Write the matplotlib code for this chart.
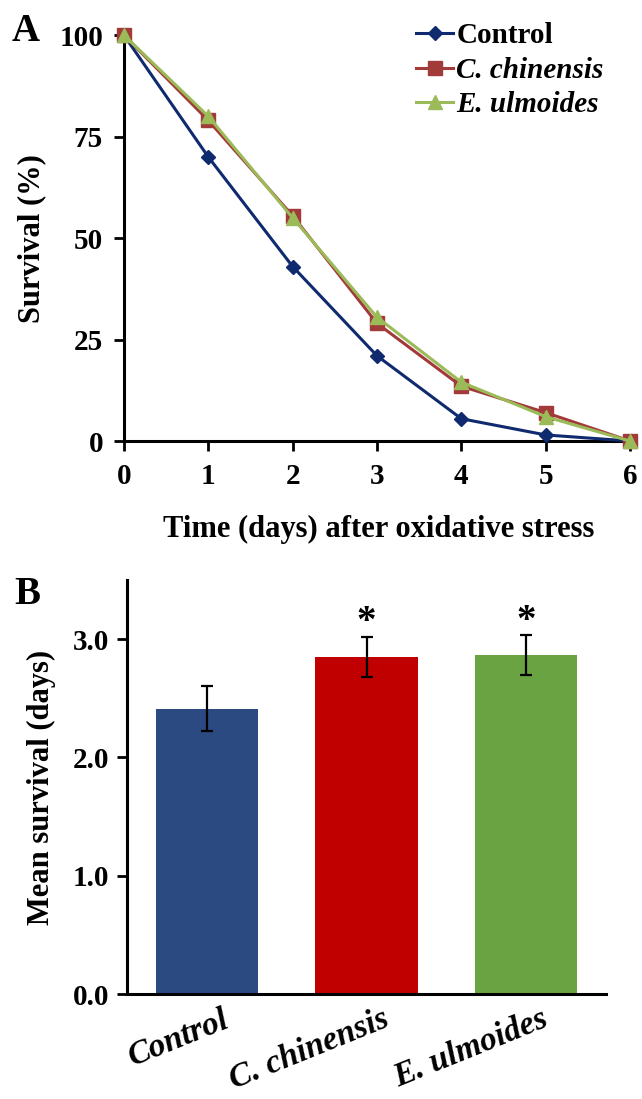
import matplotlib
matplotlib.use("Agg")
import matplotlib.pyplot as plt
import matplotlib.transforms as mtransforms
import numpy as np

plt.rcParams['font.family'] = ['Liberation Serif', 'DejaVu Serif']
plt.rcParams['font.weight'] = 'bold'

days = [0, 1, 2, 3, 4, 5, 6]
control = [100, 70, 43, 21, 5.5, 1.5, 0]
chinensis = [100, 79, 55.5, 29, 13.5, 7, 0]
ulmoides = [100, 80, 55, 30.5, 14.5, 6, 0]

groups = ["Control", "C. chinensis", "E. ulmoides"]
mean_survival = [2.41, 2.85, 2.865]
sem = [0.19, 0.17, 0.17]
yticks_a = [0, 25, 50, 75, 100]
yticks_b = [0.0, 1.0, 2.0, 3.0]

fig = plt.figure(figsize=(6.42, 10.99), dpi=100)

# Panel A
ax1 = fig.add_axes([0.193, 0.5987, 0.795, 0.3693])
ax1.plot(days, control, color='#0F2A6E', marker='D', markersize=7, lw=2.2, label='Control', zorder=3)
ax1.plot(days, chinensis, color='#A33A3A', marker='s', markersize=10, lw=2.2, label='C. chinensis', zorder=4)
ax1.plot(days, ulmoides, color='#9BBB59', marker='^', markersize=10, lw=2.2, label='E. ulmoides', zorder=5)
ax1.set_xlim(0, 6.05)
ax1.set_ylim(0, 100)
ax1.set_yticks(yticks_a)
ax1.set_xticks(days)
for s in ['top', 'right']:
    ax1.spines[s].set_visible(False)
for s in ['left', 'bottom']:
    ax1.spines[s].set_linewidth(2.2)
ax1.tick_params(axis='both', direction='out', width=2, length=7, labelsize=21)
ax1.tick_params(axis='x', pad=9)
ax1.tick_params(axis='y', pad=8)
for ln in ax1.lines:
    ln.set_clip_on(False)
ax1.set_xlabel('Time (days) after oxidative stress', fontsize=22, fontweight='bold', labelpad=18)
ax1.set_ylabel('Survival (%)', fontsize=22, fontweight='bold', labelpad=9)
leg = ax1.legend(loc='upper left', bbox_to_anchor=(0.55, 1.06), frameon=False, fontsize=21,
                 handlelength=1.25, handletextpad=0.12, labelspacing=0.25, borderaxespad=0)
for i, t in enumerate(leg.get_texts()):
    if i > 0:
        t.set_fontstyle('italic')
fig.text(0.018, 0.971, 'A', fontsize=28, fontweight='bold', va='center')

# Panel B
ax2 = fig.add_axes([0.198, 0.0955, 0.746, 0.3768])
x = np.arange(len(groups))
bar_colors = ['#2B4A82', '#C00000', '#6AA342']
ax2.bar(x, mean_survival, width=0.64, color=bar_colors, yerr=sem, capsize=4,
        error_kw=dict(elinewidth=1.6, capthick=1.6, ecolor='black'), zorder=2)
ax2.set_xlim(-0.5, 2.5)
ax2.set_ylim(0, 3.5)
ax2.set_yticks(yticks_b)
ax2.set_yticklabels([f'{v:.1f}' for v in yticks_b])
for s in ['top', 'right']:
    ax2.spines[s].set_visible(False)
for s in ['left', 'bottom']:
    ax2.spines[s].set_linewidth(2.2)
ax2.tick_params(axis='y', direction='out', width=2, length=7, labelsize=21, pad=6)
ax2.tick_params(axis='x', length=0, labelsize=24, pad=7)
ax2.set_xticks(x)
ax2.set_xticklabels(groups, rotation=22, ha='right', rotation_mode='anchor',
                    fontstyle='italic', fontweight='bold')
offset = mtransforms.ScaledTranslation(0.15, 0, fig.dpi_scale_trans)
for lbl in ax2.get_xticklabels():
    lbl.set_transform(lbl.get_transform() + offset)
ax2.set_ylabel('Mean survival (days)', fontsize=22, fontweight='bold', labelpad=12)
for i in [1, 2]:
    ax2.text(x[i], mean_survival[i] + sem[i] - 0.04, '*', ha='center', va='bottom',
             fontsize=28, fontweight='bold')
fig.text(0.022, 0.459, 'B', fontsize=28, fontweight='bold', va='center')

fig.savefig('out.png', dpi=100)
